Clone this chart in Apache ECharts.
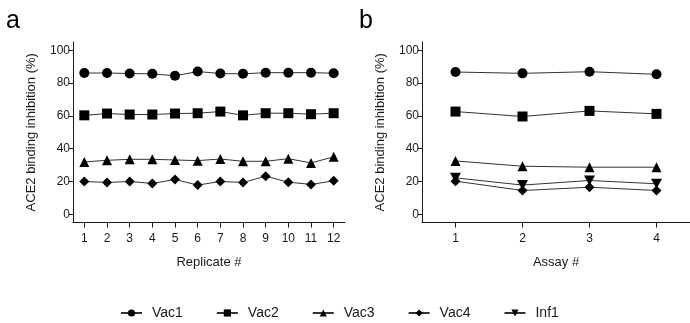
<!DOCTYPE html>
<html>
<head>
<meta charset="utf-8">
<script src="https://cdn.jsdelivr.net/npm/echarts@6/dist/echarts.min.js"></script>
<style>
  html, body { margin: 0; padding: 0; background: #fff; }
  #chart { width: 690px; height: 323px; }
</style>
</head>
<body>
<div id="chart"></div>
<script>
// panel a: replicates
const replicates = ['1', '2', '3', '4', '5', '6', '7', '8', '9', '10', '11', '12'];
const repVac1 = [86.1, 86.1, 85.8, 85.6, 84.4, 87.0, 85.8, 85.6, 86.3, 86.3, 86.3, 86.0];
const repVac2 = [60.3, 61.4, 60.8, 60.8, 61.4, 61.6, 62.6, 60.3, 61.6, 61.6, 61.0, 61.6];
const repVac3 = [31.9, 32.9, 33.5, 33.5, 33.1, 32.7, 33.7, 32.3, 32.3, 33.9, 31.3, 35.0];
const repVac4 = [20.0, 19.4, 20.0, 18.8, 21.2, 17.8, 20.0, 19.4, 23.2, 19.6, 18.2, 20.4];

// panel b: assays
const assays = ['1', '2', '3', '4'];
const asyVac1 = [86.7, 85.9, 86.9, 85.3];
const asyVac2 = [62.6, 59.6, 63.0, 61.2];
const asyVac3 = [32.5, 29.3, 28.7, 28.7];
const asyVac4 = [20.2, 14.5, 16.5, 14.5];
const asyInf1 = [22.2, 17.8, 20.6, 18.6];

const yTicks = [0, 20, 40, 60, 80, 100];
const seriesNames = ['Vac1', 'Vac2', 'Vac3', 'Vac4', 'Inf1'];

const FONT = 'Liberation Sans, Arial, sans-serif';
const INK = '#1a1a1a';

const symbols = {
  Vac1: { symbol: 'circle', symbolSize: 10 },
  Vac2: { symbol: 'rect', symbolSize: 10 },
  Vac3: { symbol: 'triangle', symbolSize: 10 },
  Vac4: { symbol: 'diamond', symbolSize: [10, 10] },
  Inf1: { symbol: 'path://M0,0 L10,0 L5,9 Z', symbolSize: [11, 10] }
};

function makeSeries(name, data, idx) {
  return {
    name: name,
    type: 'line',
    xAxisIndex: idx,
    yAxisIndex: idx,
    data: data,
    ...symbols[name],
    showAllSymbol: true,
    itemStyle: { color: '#000', opacity: 1 },
    lineStyle: { color: '#333', width: 1 },
    emphasis: { disabled: true },
    animation: false
  };
}

function makeXAxis(idx, cats, title) {
  return {
    type: 'category',
    gridIndex: idx,
    data: cats,
    boundaryGap: true,
    name: title,
    nameLocation: 'middle',
    nameGap: 33,
    nameTextStyle: { color: INK, fontSize: 13, fontFamily: FONT },
    axisLine: { onZero: false, lineStyle: { color: INK, width: 1 } },
    axisTick: { show: true, interval: 0, alignWithLabel: true, length: 5, lineStyle: { color: INK, width: 1 } },
    axisLabel: { color: INK, fontSize: 12, fontFamily: FONT, margin: 10, interval: 0 },
    splitLine: { show: false }
  };
}

function makeYAxis(idx) {
  return {
    type: 'value',
    gridIndex: idx,
    min: -5,
    max: 105,
    name: 'ACE2 binding inhibition (%)',
    nameLocation: 'middle',
    nameGap: 35,
    nameTextStyle: { color: INK, fontSize: 13, fontFamily: FONT },
    axisLine: { show: true, onZero: false, lineStyle: { color: INK, width: 1 } },
    axisTick: { show: true, length: 4, lineStyle: { color: INK }, customValues: yTicks },
    axisLabel: { color: INK, fontSize: 12, fontFamily: FONT, margin: 3, customValues: yTicks },
    splitLine: { show: false }
  };
}

const chart = echarts.init(document.getElementById('chart'), null, { renderer: 'canvas' });

chart.setOption({
  backgroundColor: '#fff',
  animation: false,
  textStyle: { fontFamily: FONT },
  graphic: [
    { type: 'text', left: 6, top: 9, style: { text: 'a', font: '25px ' + FONT, fill: '#000' } },
    { type: 'text', left: 359, top: 9, style: { text: 'b', font: '25px ' + FONT, fill: '#000' } }
  ],
  legend: {
    data: seriesNames,
    left: 115,
    top: 301,
    itemWidth: 21,
    itemHeight: 9,
    itemGap: 33,
    textStyle: { color: INK, fontSize: 14, fontFamily: FONT, padding: [0, 0, 0, 5] },
    selectedMode: false
  },
  grid: [
    { left: 73, top: 42, width: 272, height: 180.5 },
    { left: 422, top: 42, width: 272, height: 180.5 }
  ],
  xAxis: [makeXAxis(0, replicates, 'Replicate #'), makeXAxis(1, assays, 'Assay #')],
  yAxis: [makeYAxis(0), makeYAxis(1)],
  series: [
    makeSeries('Vac1', repVac1, 0),
    makeSeries('Vac2', repVac2, 0),
    makeSeries('Vac3', repVac3, 0),
    makeSeries('Vac4', repVac4, 0),
    makeSeries('Vac1', asyVac1, 1),
    makeSeries('Vac2', asyVac2, 1),
    makeSeries('Vac3', asyVac3, 1),
    makeSeries('Inf1', asyInf1, 1),
    makeSeries('Vac4', asyVac4, 1)
  ]
});

window.addEventListener('resize', () => chart.resize());
</script>
</body>
</html>
